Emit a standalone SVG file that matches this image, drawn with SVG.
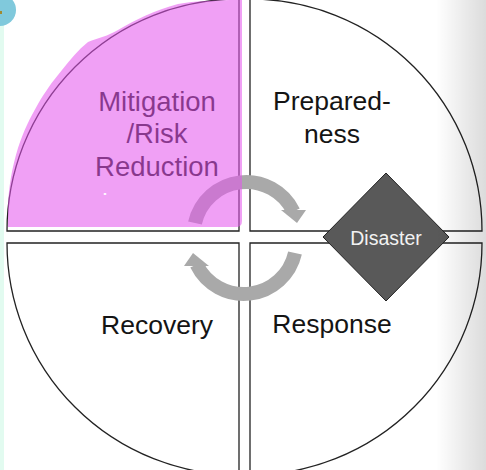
<svg xmlns="http://www.w3.org/2000/svg" width="486" height="470" viewBox="0 0 486 470">
  <defs>
    <linearGradient id="edgeShade" x1="0" y1="0" x2="1" y2="0">
      <stop offset="0" stop-color="#000" stop-opacity="0"/>
      <stop offset="1" stop-color="#000" stop-opacity="0.14"/>
    </linearGradient>
    <style>
      .quad { fill: #ffffff; stroke: #222222; stroke-width: 1.3; }
      .label { font-family: "Liberation Sans", Arial, sans-serif; font-size: 26.5px; fill: #141414; text-anchor: middle; }
      .big { font-size: 27.5px; }
      .dlabel { font-family: "Liberation Sans", Arial, sans-serif; font-size: 19.5px; fill: #f2f2f2; text-anchor: middle; }
      .shaft { fill: none; stroke: #a9a9a9; stroke-width: 14; }
      .head { fill: #a9a9a9; }
    </style>
  </defs>

  <rect x="0" y="0" width="486" height="470" fill="#ffffff"/>
  <rect x="0" y="0" width="4" height="470" fill="#e2fbf0"/>
  <circle cx="0" cy="10" r="16" fill="#80c9dc"/>
  <rect x="0" y="11" width="2" height="3" fill="#a08a30"/>

  <g id="mitigation">
    <path class="quad" d="M239,231 L7,231 A232,232 0 0 1 239,-1 Z"/>
    <text class="label big" x="157" y="111">Mitigation</text>
    <text class="label big" x="157" y="143">/Risk</text>
    <text class="label big" x="157" y="176">Reduction</text>
  </g>

  <g id="preparedness">
    <path class="quad" d="M250,231 L250,-1 A232,232 0 0 1 482,231 Z"/>
    <text class="label" x="332" y="110">Prepared-</text>
    <text class="label" x="332" y="143">ness</text>
  </g>

  <g id="recovery">
    <path class="quad" d="M239,243 L239,475 A232,232 0 0 1 7,243 Z"/>
    <text class="label" x="157" y="334">Recovery</text>
  </g>

  <g id="response">
    <path class="quad" d="M250,243 L482,243 A232,232 0 0 1 250,475 Z"/>
    <text class="label" x="332" y="333">Response</text>
  </g>

  <g id="connectors">
    <g id="arrow-top">
      <path class="shaft" d="M195,223 A52.5,52.5 0 0 1 293.4,211.5"/>
      <polygon class="head" points="281,210 306,210 297,223"/>
    </g>
    <g id="arrow-bottom" transform="rotate(180 245 238)">
      <path class="shaft" d="M195,223 A52.5,52.5 0 0 1 293.4,211.5"/>
      <polygon class="head" points="281,210 306,210 297,223"/>
    </g>
  </g>

  <g id="disaster">
    <polygon points="386,173 449,237 386,301 323,237" fill="#595959" stroke="#222222" stroke-width="1"/>
    <text class="dlabel" x="386" y="245">Disaster</text>
  </g>

  <g id="highlight">
    <path fill="#e556ee" fill-opacity="0.56" d="M8,227 L8,205 C9,185 12,168 18,148 C24,130 30,118 38,104 C45,92 52,82 62,70 C70,60 78,50 88,42 C98,38 108,36 118,30 C135,20 155,10 178,4 C195,1 215,0 239,0 L242,0 L242,221 Q242,227 236,227 Z"/>
    <ellipse cx="105" cy="194" rx="1.5" ry="1" fill="#ffffff"/>
  </g>

  <rect x="436" y="0" width="50" height="470" fill="url(#edgeShade)"/>
</svg>
